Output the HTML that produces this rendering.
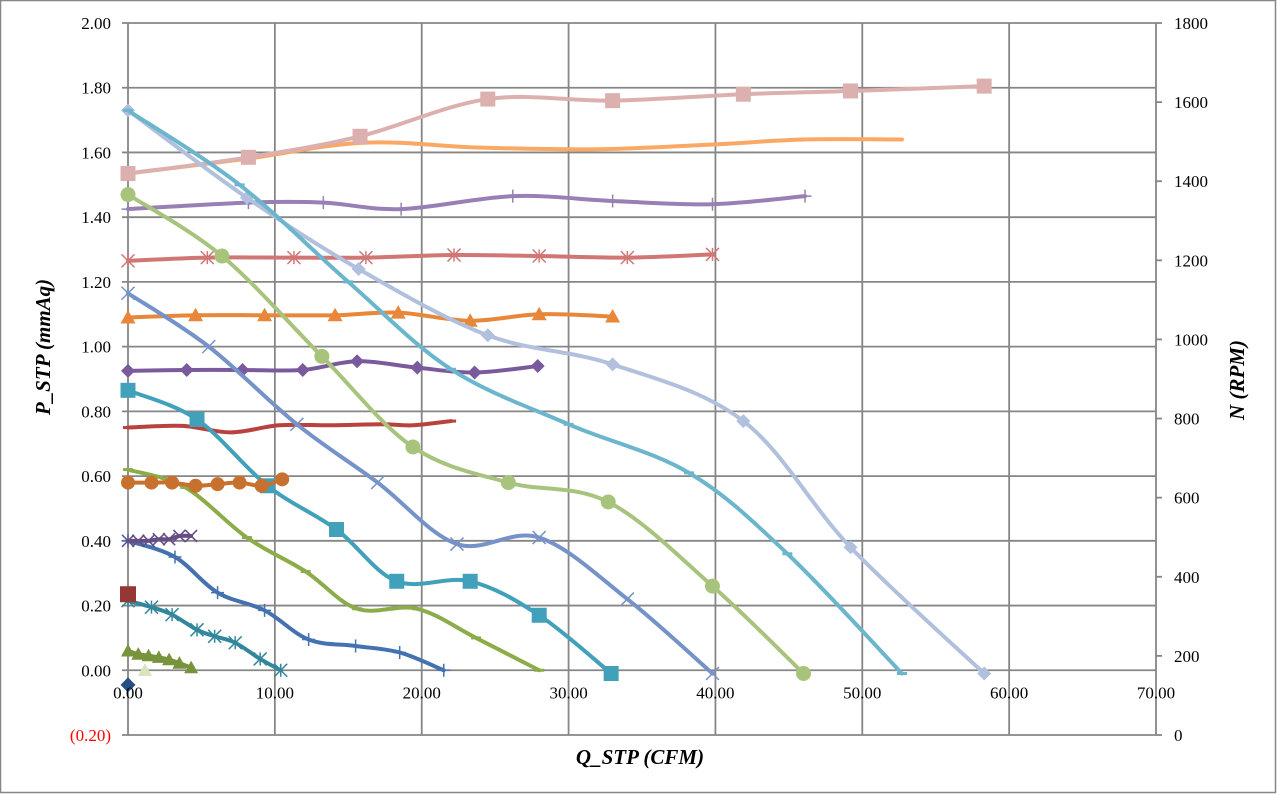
<!DOCTYPE html>
<html><head><meta charset="utf-8">
<style>
html,body{margin:0;padding:0;background:#fff;}
svg{display:block;}
text{font-family:"Liberation Serif",serif;}
</style></head>
<body>
<svg id="chart" width="1277" height="794" xmlns="http://www.w3.org/2000/svg">
<rect x="0.5" y="0.5" width="1275" height="792" fill="#fff" stroke="#868686" stroke-width="1.5"/>
<g id="grid"></g>
<g id="series"></g>
<g id="axes"></g>
<text transform="translate(50,347) rotate(-90)" text-anchor="middle" font-size="21" font-weight="bold" font-style="italic">P_STP (mmAq)</text>
<text transform="translate(1244,380) rotate(-90)" text-anchor="middle" font-size="21" font-weight="bold" font-style="italic">N (RPM)</text>
<text x="640" y="764" text-anchor="middle" font-size="21" font-weight="bold" font-style="italic">Q_STP (CFM)</text>
</svg>
<script>
const xTicks=[0,10,20,30,40,50,60,70];
const yTicks=[-0.2,0,0.2,0.4,0.6,0.8,1.0,1.2,1.4,1.6,1.8,2.0];
const y2Ticks=[0,200,400,600,800,1000,1200,1400,1600,1800];

// series: x values (CFM) and y values (mmAq)
const sPinkX=[0,8.2,15.8,24.5,33,41.9,49.2,58.3];
const sPinkY=[1.535,1.585,1.65,1.765,1.76,1.78,1.79,1.805];
const sOrangeLX=[0,8,16,24,32,40,46,52.7];
const sOrangeLY=[1.535,1.58,1.63,1.615,1.61,1.625,1.64,1.64];
const sPurplePX=[0,8.2,13.3,18.6,26.2,33,39.8,46.1];
const sPurplePY=[1.425,1.445,1.445,1.425,1.465,1.45,1.44,1.465];
const sRedStarX=[0,5.4,11.3,16.2,22.2,28,34,39.8];
const sRedStarY=[1.265,1.275,1.275,1.275,1.283,1.28,1.275,1.285];
const sOrTriX=[0,4.6,9.3,14.1,18.4,23.3,28,33];
const sOrTriY=[1.09,1.097,1.097,1.097,1.105,1.08,1.1,1.093];
const sPurDiaX=[0,4,7.8,11.9,15.6,19.7,23.6,27.9];
const sPurDiaY=[0.925,0.928,0.928,0.928,0.955,0.935,0.92,0.94];
const sRedX=[0,3.7,7,10.3,13.8,17.3,19.4,22];
const sRedY=[0.75,0.755,0.735,0.757,0.757,0.76,0.757,0.77];
const sLBlueX=[0,8.1,15.7,24.5,33,41.9,49.2,58.3];
const sLBlueY=[1.73,1.46,1.24,1.035,0.945,0.77,0.38,-0.01];
const sTealLX=[0,7.6,15,22,30,38.2,44.9,52.7];
const sTealLY=[1.73,1.5,1.2,0.93,0.76,0.61,0.36,-0.01];
const sGreenX=[0,6.4,13.2,19.4,25.9,32.7,39.8,46];
const sGreenY=[1.47,1.28,0.97,0.69,0.58,0.52,0.26,-0.01];
const sBlueXX=[0,5.5,11.5,17,22.4,28,34,39.8];
const sBlueXY=[1.165,1.0,0.76,0.58,0.39,0.41,0.22,-0.01];
const sTealSqX=[0,4.7,9.5,14.2,18.3,23.3,28,32.9];
const sTealSqY=[0.865,0.775,0.57,0.435,0.275,0.275,0.17,-0.01];
const sOliveX=[0,3.9,8.1,12.1,15.6,19.7,23.7,28];
const sOliveY=[0.62,0.565,0.41,0.305,0.19,0.19,0.1,0];
const sDBlueX=[0,3.2,6.1,9.3,12.3,15.5,18.5,21.5];
const sDBlueY=[0.4,0.35,0.24,0.185,0.095,0.075,0.055,0];
const sTealDX=[0,1.6,3.0,4.7,5.9,7.3,9.0,10.4];
const sTealDY=[0.215,0.195,0.172,0.125,0.105,0.085,0.035,0];
const sOrCircX=[0,1.6,3,4.6,6.1,7.6,9.1,10.5];
const sOrCircY=[0.58,0.58,0.58,0.57,0.575,0.58,0.57,0.59];
const sPurXX=[0,0.7,1.4,2.1,2.8,3.5,4.3];
const sPurXY=[0.4,0.4,0.4,0.405,0.405,0.415,0.415];
const sOlTriX=[0,0.7,1.4,2.1,2.8,3.5,4.3];
const sOlTriY=[0.06,0.05,0.045,0.04,0.033,0.022,0.008];
const sBrownSqX=[0];const sBrownSqY=[0.235];
const sNavyDiaX=[0];const sNavyDiaY=[-0.045];
const sPaleTriX=[1.15];const sPaleTriY=[0.0];

const X0=128,X1=1156,YT=23,YB=735;
const xs=v=>X0+(v-0)*(X1-X0)/70;
const ys=v=>YB-(v+0.2)*(YB-YT)/2.2;
const ys2=v=>YB-v*(YB-YT)/1800;
const NS="http://www.w3.org/2000/svg";
function mk(tag,attrs,parent){const e=document.createElementNS(NS,tag);for(const k in attrs)e.setAttribute(k,attrs[k]);parent.appendChild(e);return e;}
const grid=document.getElementById('grid'),axes=document.getElementById('axes'),ser=document.getElementById('series');
const GC="#868686";
for(const t of yTicks){
  const l=mk('line',{x1:X0-6,x2:X1,y1:ys(t),y2:ys(t),stroke:GC,'stroke-width':1.8},grid);
  
  
  const tx=mk('text',{x:111,y:ys(t)+6,'text-anchor':'end','font-size':17,fill:t<0?'#ff0000':'#000'},axes);
  tx.textContent=t<0?'('+Math.abs(t).toFixed(2)+')':t.toFixed(2);
  
  
}
for(const t of xTicks){
  const l=mk('line',{x1:xs(t),x2:xs(t),y1:YT,y2:YB,stroke:GC,'stroke-width':1.8},grid);
  
  
  const tx=mk('text',{x:xs(t),y:ys(0)+28,'text-anchor':'middle','font-size':17},axes);
  tx.textContent=t.toFixed(2);
  
  
}
for(const t of y2Ticks){
  const l=mk('line',{x1:X1,x2:X1+6,y1:ys2(t),y2:ys2(t),stroke:GC,'stroke-width':1.8},axes);
  
  
  const tx=mk('text',{x:1174,y:ys2(t)+6,'font-size':17},axes);
  tx.textContent=t;
  
  
}
function smooth(px,py){
  if(px.length<2)return '';
  let d='M'+px[0]+','+py[0];
  for(let i=0;i<px.length-1;i++){
    const p0x=px[Math.max(i-1,0)],p0y=py[Math.max(i-1,0)];
    const p3x=px[Math.min(i+2,px.length-1)],p3y=py[Math.min(i+2,px.length-1)];
    const c1x=px[i]+(px[i+1]-p0x)/6,c1y=py[i]+(py[i+1]-p0y)/6;
    const c2x=px[i+1]-(p3x-px[i])/6,c2y=py[i+1]-(p3y-py[i])/6;
    d+=' C'+c1x+','+c1y+' '+c2x+','+c2y+' '+px[i+1]+','+py[i+1];
  }
  return d;
}
function marker(g,type,x,y,c,sz){
  let e;
  const h=sz/2;
  if(type==='square')e=mk('rect',{x:x-h,y:y-h,width:sz,height:sz,fill:c},g);
  else if(type==='circle')e=mk('circle',{cx:x,cy:y,r:h,fill:c},g);
  else if(type==='triangle')e=mk('polygon',{points:`${x},${y-h} ${x+h},${y+h*0.8} ${x-h},${y+h*0.8}`,fill:c},g);
  else if(type==='diamond')e=mk('polygon',{points:`${x},${y-h} ${x+h},${y} ${x},${y+h} ${x-h},${y}`,fill:c},g);
  else if(type==='x')e=mk('path',{d:`M${x-h},${y-h}L${x+h},${y+h}M${x-h},${y+h}L${x+h},${y-h}`,stroke:c,'stroke-width':1.5,fill:'none'},g);
  else if(type==='plus')e=mk('path',{d:`M${x},${y-h}L${x},${y+h}M${x-h},${y}L${x+h},${y}`,stroke:c,'stroke-width':1.5,fill:'none'},g);
  else if(type==='star')e=mk('path',{d:`M${x-h},${y-h}L${x+h},${y+h}M${x-h},${y+h}L${x+h},${y-h}M${x},${y-h}L${x},${y+h}`,stroke:c,'stroke-width':1.5,fill:'none'},g);
  else if(type==='dash')e=mk('path',{d:`M${x-h},${y}L${x+h},${y}`,stroke:c,'stroke-width':3,fill:'none'},g);
  else return;
  
  
}
function series(name,X,Y,color,mtype,sz){
  const g=mk('g',{},ser);
  
  
  const px=X.map(xs),py=Y.map(ys);
  if(px.length>1){
    const p=mk('path',{d:smooth(px,py),fill:'none',stroke:color,'stroke-width':4,'stroke-linejoin':'round','stroke-linecap':'round'},g);
    
    
  }
  for(let i=0;i<px.length;i++)marker(g,mtype,px[i],py[i],color,sz);
}
series('series-red-dark',sRedX,sRedY,'#b9413e','dash',10);
series('series-purple-diamond',sPurDiaX,sPurDiaY,'#7a5a9c','diamond',14);
series('series-orange-triangle',sOrTriX,sOrTriY,'#e8873a','triangle',15);
series('series-red-star',sRedStarX,sRedStarY,'#d07775','star',13);
series('series-purple-plus',sPurplePX,sPurplePY,'#9880b4','plus',13);
series('series-orange-light',sOrangeLX,sOrangeLY,'#f9a865','none',0);
series('series-pink-square',sPinkX,sPinkY,'#dbb0ae','square',15);
series('series-light-blue-diamond',sLBlueX,sLBlueY,'#b0c0dd','diamond',14);
series('series-teal-light',sTealLX,sTealLY,'#6cb6cd','dash',10);
series('series-green-circle',sGreenX,sGreenY,'#a8c47c','circle',15);
series('series-blue-x',sBlueXX,sBlueXY,'#7593c8','x',13);
series('series-teal-square',sTealSqX,sTealSqY,'#41a0ba','square',15);
series('series-olive-dash',sOliveX,sOliveY,'#8cac4a','dash',10);
series('series-dark-blue-plus',sDBlueX,sDBlueY,'#4472b0','plus',13);
series('series-teal-dark-star',sTealDX,sTealDY,'#32879d','star',13);
series('series-orange-circle',sOrCircX,sOrCircY,'#c8702e','circle',14);
series('series-purple-x',sPurXX,sPurXY,'#654d85','x',12);
series('series-olive-triangle',sOlTriX,sOlTriY,'#77933c','triangle',14);
series('series-brown-square',sBrownSqX,sBrownSqY,'#953735','square',16);
series('series-navy-diamond',sNavyDiaX,sNavyDiaY,'#254f84','diamond',15);
series('series-pale-triangle',sPaleTriX,sPaleTriY,'#d7e4bd','triangle',14);
</script>
</body></html>
